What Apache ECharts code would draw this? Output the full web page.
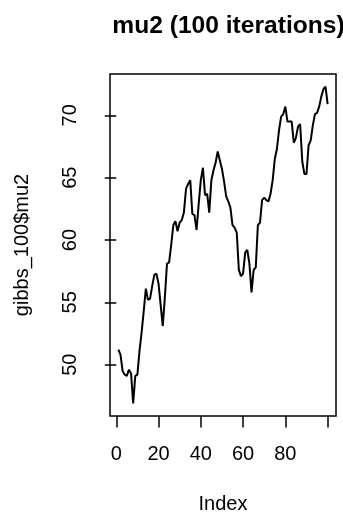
<!DOCTYPE html>
<html>
<head>
<meta charset="utf-8">
<script src="https://cdn.jsdelivr.net/npm/echarts@6/dist/echarts.min.js"></script>
<style>
html,body{margin:0;padding:0;background:#fff;}
#chart{width:343px;height:514px;}
</style>
</head>
<body>
<div id="chart"></div>
<script>
var titleText = 'mu2 (100 iterations)';
var xName = 'Index';
var yName = 'gibbs_100$mu2';
var mu2 = [
  51.2, 50.8, 49.5, 49.2, 49.1, 49.6, 49.3, 46.9, 49.1, 49.2,
  51.1, 52.6, 54.3, 56.1, 55.2, 55.3, 56.3, 57.2, 57.3, 56.5,
  54.8, 53.1, 55.4, 58.1, 58.2, 59.6, 61.2, 61.5, 60.7, 61.4,
  61.6, 62.2, 64.1, 64.5, 64.8, 62.1, 62.0, 60.8, 62.9, 64.8,
  65.8, 63.6, 63.7, 62.2, 64.8, 65.6, 66.2, 67.1, 66.4, 65.7,
  64.7, 63.5, 63.1, 62.6, 61.2, 61.0, 60.6, 57.6, 57.1, 57.3,
  59.0, 59.2, 58.1, 55.8, 57.6, 57.8, 61.2, 61.4, 63.2, 63.4,
  63.2, 63.1, 63.7, 64.8, 66.5, 67.3, 68.8, 69.9, 70.1, 70.7,
  69.5, 69.5, 69.5, 67.8, 68.2, 69.1, 69.3, 66.3, 65.3, 65.3,
  67.6, 68.0, 69.2, 70.1, 70.2, 70.7, 71.5, 72.1, 72.3, 70.9
];
var xTicks = [0, 20, 40, 60, 80, 100];
var xLabels = [0, 20, 40, 60, 80];
var yTicks = [50, 55, 60, 65, 70];

var points = mu2.map(function (v, i) { return [i + 1, v]; });
var n = mu2.length;
var xPad = (n - 1) * 0.04;
var yMin = Math.min.apply(null, mu2), yMax = Math.max.apply(null, mu2);
var yPad = (yMax - yMin) * 0.04;
var FONT = 'Liberation Sans, Arial, Helvetica, sans-serif';

var chart = echarts.init(document.getElementById('chart'), null, {renderer: 'canvas'});
chart.setOption({
  animation: false,
  backgroundColor: '#fff',
  title: {
    text: titleText,
    left: 223.5, textAlign: 'center', top: 9,
    textStyle: {fontFamily: FONT, fontSize: 24.6, fontWeight: 'bold', color: '#000'}
  },
  grid: {
    left: 110, right: 7, top: 74, bottom: 98,
    containLabel: false, outerBoundsMode: 'none',
    show: true, borderColor: '#000', borderWidth: 1.5, backgroundColor: 'transparent'
  },
  xAxis: {
    type: 'value',
    min: 1 - xPad, max: n + xPad,
    name: xName, nameLocation: 'middle', nameGap: 78,
    nameTextStyle: {fontFamily: FONT, fontSize: 20, color: '#000'},
    axisLine: {show: false},
    axisTick: {show: true, length: 11.5, customValues: xTicks, lineStyle: {color: '#000', width: 1.5}},
    axisLabel: {customValues: xLabels, margin: 28, fontFamily: FONT, fontSize: 20, color: '#000'},
    splitLine: {show: false}
  },
  yAxis: {
    type: 'value',
    min: yMin - yPad, max: yMax + yPad,
    name: yName, nameLocation: 'middle', nameGap: 78,
    nameTextStyle: {fontFamily: FONT, fontSize: 20, color: '#000'},
    axisLine: {show: false},
    axisTick: {show: true, length: 11.5, customValues: yTicks, lineStyle: {color: '#000', width: 1.5}},
    axisLabel: {customValues: yTicks, rotate: 90, margin: 30, fontFamily: FONT, fontSize: 20, color: '#000'},
    splitLine: {show: false}
  },
  series: [{
    type: 'line',
    data: points,
    showSymbol: false,
    symbol: 'none',
    lineStyle: {color: '#000', width: 2},
    silent: true
  }]
});
</script>
</body>
</html>
